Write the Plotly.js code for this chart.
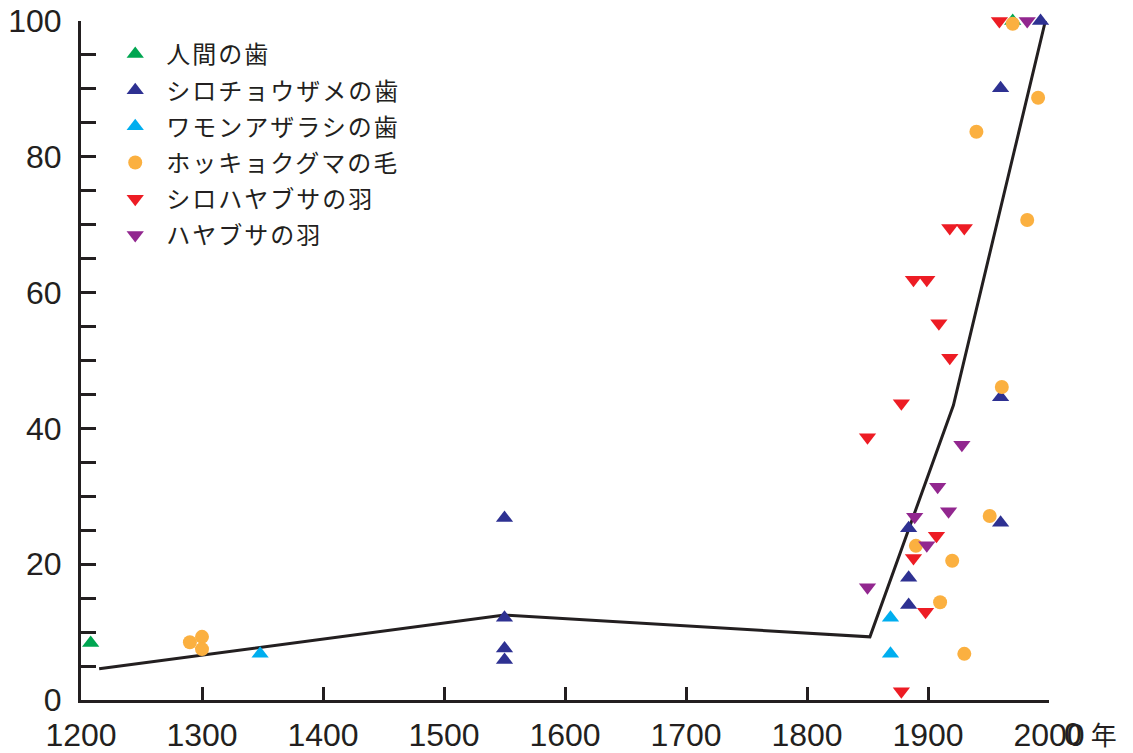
<!DOCTYPE html>
<html>
<head>
<meta charset="utf-8">
<script src="https://cdn.plot.ly/plotly-3.0.1.min.js"></script>
<style>
html,body{margin:0;padding:0;background:#fff;}
#chart{width:1133px;height:753px;}
.legendtext{letter-spacing:2px;}
</style>
</head>
<body>
<div id="chart"></div>
<script>
// Series names
const seriesNames = ["人間の歯", "シロチョウザメの歯", "ワモンアザラシの歯", "ホッキョクグマの毛", "シロハヤブサの羽", "ハヤブサの羽"];

// 人間の歯
const humanX = [1208, 1970];
const humanY = [8.4, 100];
// シロチョウザメの歯
const sturgeonX = [1550, 1550, 1550, 1550, 1884, 1884, 1884, 1960, 1960, 1960, 1993];
const sturgeonY = [26.8, 12.1, 7.6, 5.9, 25.3, 18.0, 14.0, 26.1, 44.6, 90.1, 100];
// ワモンアザラシの歯
const sealX = [1348, 1869, 1869];
const sealY = [6.8, 12.1, 6.8];
// ホッキョクグマの毛
const bearX = [1290, 1300, 1300, 1890, 1910, 1920, 1930, 1940, 1951, 1961, 1970, 1982, 1991];
const bearY = [8.5, 9.3, 7.5, 22.7, 14.4, 20.5, 6.8, 83.7, 27.1, 46.1, 99.6, 70.7, 88.7];
// シロハヤブサの羽
const gyrX = [1850, 1878, 1878, 1888, 1888, 1898, 1899, 1907, 1909, 1918, 1918, 1930, 1959];
const gyrY = [38.7, 43.7, 1.3, 20.9, 61.9, 13.0, 61.9, 24.2, 55.5, 50.4, 69.5, 69.5, 100];
// ハヤブサの羽
const peregrineX = [1850, 1889, 1899, 1908, 1917, 1928, 1982];
const peregrineY = [16.6, 27.0, 22.8, 31.4, 27.8, 37.6, 100];
// Trend line
const trendX = [1215, 1550, 1852, 1921, 1997];
const trendY = [4.6, 12.5, 9.3, 43.4, 100];

const colors = ["#00a651", "#2e3192", "#00aeef", "#fbb040", "#ed1c24", "#92278f"];
const symbols = ["triangle-up", "triangle-up", "triangle-up", "circle", "triangle-down", "triangle-down"];
const xs = [humanX, sturgeonX, sealX, bearX, gyrX, peregrineX];
const ys = [humanY, sturgeonY, sealY, bearY, gyrY, peregrineY];

const traces = [{
  x: trendX, y: trendY, type: "scatter", mode: "lines",
  line: {color: "#231f20", width: 3}, showlegend: false, hoverinfo: "skip", cliponaxis: false
}];
for (let i = 0; i < seriesNames.length; i++) {
  traces.push({
    x: xs[i], y: ys[i], type: "scatter", mode: "markers", name: seriesNames[i],
    legendgroup: "g" + i, legendrank: i + 1,
    marker: {color: colors[i], symbol: symbols[i], size: symbols[i] === "circle" ? 14 : 15},
    cliponaxis: false
  });
}

const tickFont = {family: "Liberation Sans, Arial, sans-serif", size: 32, color: "#231f20"};

const layout = {
  width: 1133, height: 753,
  margin: {l: 81, r: 84, t: 21, b: 53},
  paper_bgcolor: "#fff", plot_bgcolor: "#fff",
  showlegend: true,
  legend: {
    x: 0.024, y: 0.984, xanchor: "left", yanchor: "top",
    itemwidth: 52, traceorder: "grouped", tracegroupgap: 2,
    font: {family: "Noto Sans CJK JP, sans-serif", size: 24, color: "#231f20"},
    bgcolor: "rgba(0,0,0,0)"
  },
  xaxis: {
    range: [1200, 2000], tickvals: [1200, 1300, 1400, 1500, 1600, 1700, 1800, 1900, 2000],
    ticks: "inside", ticklen: 13, tickwidth: 3, tickcolor: "#231f20",
    showline: true, linewidth: 3, linecolor: "#231f20",
    showgrid: false, zeroline: false, tickfont: tickFont, ticklabelstandoff: 5
  },
  yaxis: {
    range: [0, 100], tickvals: [0, 20, 40, 60, 80, 100],
    ticks: "inside", ticklen: 15, tickwidth: 3, tickcolor: "#231f20",
    minor: {tickvals: [5,10,15,25,30,35,45,50,55,65,70,75,85,90,95], ticks: "inside", ticklen: 15, tickwidth: 3, tickcolor: "#231f20"},
    showline: true, linewidth: 3, linecolor: "#231f20",
    showgrid: false, zeroline: false, tickfont: tickFont, ticklabelstandoff: 10
  },
  annotations: [{
    xref: "paper", yref: "paper", x: 1.0135, y: -0.05, xanchor: "left", yanchor: "middle",
    text: "0 <span style=\"font-family:'Noto Sans CJK JP';font-size:26px\">年</span>",
    showarrow: false, font: tickFont
  }]
};

Plotly.newPlot("chart", traces, layout, {displayModeBar: false, staticPlot: true});
</script>
</body>
</html>
